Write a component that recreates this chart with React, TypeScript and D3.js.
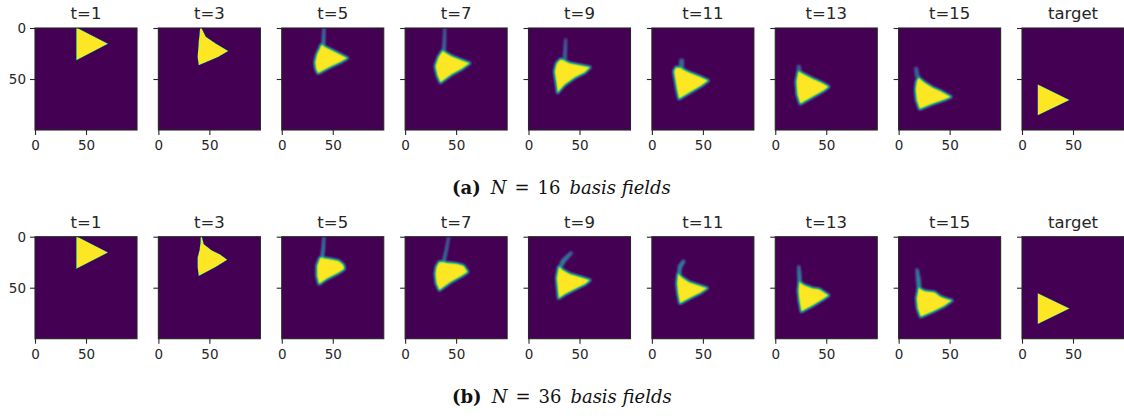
import * as d3 from "d3";

type Pt = [number, number];

// panel titles and axis ticks
const titles = ["t=1", "t=3", "t=5", "t=7", "t=9", "t=11", "t=13", "t=15", "target"];
const xTickValues = [0, 50];
const yTickValues = [0, 50];
const captionLabels = ["(a)", "(b)"];
const captionN = ["16", "36"];

// shapes in image coords (x right, y down, 0..99)
const startTri: Pt[] = [[40, -1], [71, 15], [40, 31]];
const targetTri: Pt[] = [[15, 55], [46, 70], [15, 85]];

// row (a): N = 16
const bodiesA: Pt[][] = [
  startTri,
  [[40.5, -1], [41.5, -1], [46, 8], [56, 15], [68, 22], [58, 28], [39, 36], [38, 28], [39, 14]],
  [[38, 16], [42, 18], [52, 23], [64, 29], [57, 33], [46, 38], [35, 44], [33, 40], [32, 33], [34, 25], [37, 19]],
  [[36, 22], [45, 27], [55, 31], [63, 34], [56, 39], [45, 45], [34, 53], [31, 46], [29, 37], [32, 28]],
  [[31, 30], [40, 34], [50, 36], [60, 38], [55, 43], [45, 48], [35, 55], [28, 63], [27, 55], [25, 42], [27, 34]],
  [[23, 38], [28, 39], [36, 43], [46, 47], [55, 51], [48, 56], [38, 62], [26, 69], [24, 60], [22, 48], [21, 42]],
  [[22, 42], [28, 45], [38, 50], [45, 53], [52, 57], [47, 61], [36, 67], [24, 74], [21, 65], [20, 52]],
  [[19, 48], [25, 53], [33, 58], [42, 62], [51, 67], [44, 70], [32, 74], [20, 79], [17, 70], [16, 60], [17, 52]],
  targetTri,
];
const tailsA: (Pt[] | null)[] = [
  null,
  null,
  [[40, -1], [41.8, -1], [41.8, 10], [41.5, 18], [38.5, 18], [39.3, 10]],
  [[37.5, -1], [39.3, -1], [39.2, 12], [38.8, 24], [35.8, 24], [36.8, 12]],
  [[35, 10], [36.8, 10], [36.8, 20], [36.5, 31], [33.5, 31], [34.3, 20]],
  [[27, 30], [30.5, 30], [30.5, 39], [26, 39]],
  [[21, 36], [24, 36], [25, 43], [21, 43]],
  [[15, 38], [18, 38], [20, 48], [16, 48]],
  null,
];
const tailLevelA = [0, 0, 0.5, 0.42, 0.4, 0.4, 0.35, 0.35, 0];
const blurA = [0.4, 0.7, 1.0, 1.1, 1.2, 1.2, 1.2, 1.3, 0.4];

// row (b): N = 36
const bodiesB: Pt[][] = [
  startTri,
  [[41, -1], [42, -1], [44, 7], [52, 13], [60, 17], [67, 22], [56, 29], [39, 38], [38, 29], [38, 20], [40, 12], [40.8, 5]],
  [[37, 20], [45, 21], [55, 23], [60, 27], [61, 31], [55, 35], [45, 40], [36, 46], [34, 38], [34, 28]],
  [[33, 24], [40, 25], [50, 26], [57, 28], [61, 34], [55, 38], [44, 44], [33, 52], [30, 45], [29, 36], [30, 29]],
  [[29, 29], [33, 32], [40, 36], [50, 39], [60, 42], [55, 46], [45, 51], [35, 56], [29, 60], [28, 50], [27, 40]],
  [[25, 36], [30, 40], [36, 44], [45, 47], [54, 50], [48, 54], [38, 59], [27, 65], [25, 55], [24, 45]],
  [[23, 44], [28, 47], [36, 50], [43, 51], [52, 57], [46, 61], [36, 67], [25, 73], [23, 62], [22, 52]],
  [[19, 50], [26, 53], [35, 54], [40, 58], [45, 60], [52, 62], [45, 67], [33, 73], [21, 78], [18, 70], [17, 60]],
  targetTri,
];
const tailsB: (Pt[] | null)[] = [
  null,
  null,
  [[40, -1], [41.8, -1], [41.5, 10], [40.5, 21], [37.5, 21], [39, 10]],
  [[41.5, -1], [43.2, -1], [41.2, 12], [38.5, 25], [35.5, 25], [38.8, 12]],
  [[41, 14], [43, 15.5], [35.5, 24], [31.5, 31], [28.5, 30], [32, 22]],
  [[30, 22], [32.2, 23.5], [28.5, 30], [27.5, 38], [24.5, 37], [25.5, 28]],
  [[21.5, 28], [23.5, 28], [24.8, 38], [25, 46], [22, 46], [21.5, 37]],
  [[16.5, 31], [18.5, 31], [20.8, 42], [21.5, 52], [18, 52], [17, 42]],
  null,
];
const tailLevelB = [0, 0, 0.5, 0.42, 0.45, 0.5, 0.5, 0.5, 0];
const blurB = [0.4, 0.7, 1.0, 1.1, 1.1, 1.1, 1.2, 1.2, 0.4];

const W = 1124;
const H = 416;
const size = 102;
const lefts = d3.range(titles.length).map((i) => 35 + i * 123.375);
const rowTops = [28, 236.7];

const sans = "DejaVu Sans, sans-serif";
const ink = "#262626";

// viridis lookup for the component transfer
const vir = d3.range(33).map((i) => d3.rgb(d3.interpolateViridis(i / 32)));
const table = (k: "r" | "g" | "b") => vir.map((c) => (c[k] / 255).toFixed(4)).join(" ");

function Panel({ row, i, body, tail, level, blur }: {
  row: number; i: number; body: Pt[]; tail: Pt[] | null; level: number; blur: number;
}) {
  const x = d3.scaleLinear().domain([-0.5, 99.5]).range([0, size]);
  const y = d3.scaleLinear().domain([-0.5, 99.5]).range([0, size]);
  const line = d3.line<Pt>().x((d) => x(d[0])).y((d) => y(d[1])).curve(d3.curveLinearClosed);
  const id = `p${row}-${i}`;
  const grey = (v: number) => d3.rgb(v * 255, v * 255, v * 255).toString();
  const soft = blur > 0.8;

  return (
    <g transform={`translate(${lefts[i]},${rowTops[row]})`}>
      <defs>
        <clipPath id={`clip-${id}`}>
          <rect width={size} height={size} />
        </clipPath>
        <filter id={`f-${id}`} x={-10} y={-10} width={size + 20} height={size + 20}
          filterUnits="userSpaceOnUse" colorInterpolationFilters="sRGB">
          <feGaussianBlur stdDeviation={blur} />
          <feComponentTransfer>
            <feFuncR type="table" tableValues={table("r")} />
            <feFuncG type="table" tableValues={table("g")} />
            <feFuncB type="table" tableValues={table("b")} />
          </feComponentTransfer>
        </filter>
      </defs>
      <g clipPath={`url(#clip-${id})`}>
        <g filter={`url(#f-${id})`}>
          <rect x={-8} y={-8} width={size + 16} height={size + 16} fill="#000" />
          {tail && <path d={line(tail) ?? ""} fill={grey(level)} />}
          <path d={line(body) ?? ""} fill="#fff" stroke={soft ? "#fff" : "none"}
            strokeWidth={1.4} strokeLinejoin="round" />
        </g>
      </g>
      <rect width={size} height={size} fill="none" stroke={ink} strokeWidth={1.1} />

      {/* title */}
      <text x={size / 2} y={-9} textAnchor="middle" fontFamily={sans} fontSize={16.5} fill={ink}>
        {titles[i]}
      </text>

      {/* x axis */}
      {xTickValues.map((t) => (
        <g key={`x${t}`} transform={`translate(${x(t)},${size})`}>
          <line y2={5} stroke={ink} strokeWidth={1.1} />
          <text y={20} textAnchor="middle" fontFamily={sans} fontSize={13.5} fill={ink}>{t}</text>
        </g>
      ))}

      {/* y axis, labels only on first column */}
      {yTickValues.map((t) => (
        <g key={`y${t}`} transform={`translate(0,${y(t)})`}>
          <line x2={-5} stroke={ink} strokeWidth={1.1} />
          {i === 0 && (
            <text x={-9} dy="0.35em" textAnchor="end" fontFamily={sans} fontSize={13.5} fill={ink}>{t}</text>
          )}
        </g>
      ))}
    </g>
  );
}

export default function App() {
  const rows = [
    { bodies: bodiesA, tails: tailsA, levels: tailLevelA, blurs: blurA },
    { bodies: bodiesB, tails: tailsB, levels: tailLevelB, blurs: blurB },
  ];
  const serif = "DejaVu Serif, serif";

  return (
    <svg width={W} height={H} viewBox={`0 0 ${W} ${H}`}
      style={{ position: "absolute", left: 0, top: 0, background: "#fff" }}>
      {rows.map((r, row) => (
        <g key={row}>
          {titles.map((_, i) => (
            <Panel key={i} row={row} i={i} body={r.bodies[i]} tail={r.tails[i]}
              level={r.levels[i]} blur={r.blurs[i]} />
          ))}
          <text x={452} y={rowTops[row] + 166} fontFamily={serif} fontSize={18} fill="#111">
            <tspan fontWeight="bold">{captionLabels[row]}</tspan>
            <tspan dx={10} fontStyle="italic">N</tspan>
            <tspan dx={8}>=</tspan>
            <tspan dx={8}>{captionN[row]}</tspan>
            <tspan dx={9} fontStyle="italic">basis fields</tspan>
          </text>
        </g>
      ))}
    </svg>
  );
}
